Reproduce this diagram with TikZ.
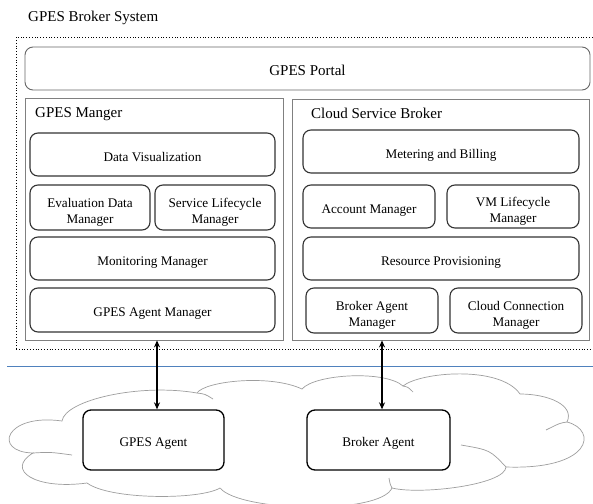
\documentclass[tikz,border=0pt]{standalone}
\usepackage{fontspec}
\setmainfont{Liberation Serif}
\usetikzlibrary{arrows.meta}
\definecolor{sepblue}{RGB}{79,129,189}
\begin{document}
\begin{tikzpicture}[x=1pt,y=-1pt,
  box/.style={draw=black!80,line width=1.1pt,rounded corners=8pt,align=center,
    font=\fontsize{13.2}{16.5}\selectfont,inner sep=0pt,fill=white,
    text height=13pt,text depth=0pt},
  twoline/.style={box,text height=32pt},
  agent/.style={box,line width=1.3pt,draw=black,text height=13.5pt},
  container/.style={draw=black!50,line width=0.8pt,inner sep=0pt},
  portal/.style={draw=black!60,line width=0.9pt,rounded corners=8pt,inner sep=0pt,
    font=\fontsize{15}{17}\selectfont,text height=13pt,text depth=0pt},
  title/.style={anchor=west,inner sep=0pt,font=\fontsize{15}{17}\selectfont},
  cloudline/.style={draw=black!38,line width=0.7pt},
  biarrow/.style={{Stealth[length=7pt,width=6pt]}-{Stealth[length=7pt,width=6pt]},line width=1.2pt},
]
\useasboundingbox (0,0) rectangle (593,503);
% cloud
\coordinate (c1) at (33,453);
\coordinate (c2) at (62,421);
\coordinate (c3) at (197,393);
\coordinate (c4) at (302,389);
\coordinate (c5) at (403,386);
\coordinate (c6) at (520,394);
\coordinate (c7) at (567,422);
\coordinate (c8) at (506,467);
\coordinate (c9) at (392,488);
\coordinate (c10) at (220,488);
\coordinate (c11) at (87,483);
\draw[cloudline,fill=white]
  (c1) .. controls (-8,452) and (5,413) .. (c2)
  .. controls (65,400) and (140,383) .. (c3)
  .. controls (205,381) and (270,374) .. (c4)
  .. controls (315,374) and (385,370) .. (c5)
  .. controls (420,372) and (500,365) .. (c6)
  .. controls (548,394) and (575,405) .. (c7)
  .. controls (598,430) and (592,470) .. (c8)
  .. controls (505,485) and (420,495) .. (c9)
  .. controls (380,515) and (240,512) .. (c10)
  .. controls (200,500) and (110,500) .. (c11)
  .. controls (35,490) and (5,470) .. (c1) -- cycle;
% inner strokes of the cloud
\draw[cloudline] (c1) .. controls (50,452) .. (72,455);
\draw[cloudline] (c3) .. controls (205,394) .. (213,399);
\draw[cloudline] (c5) .. controls (408,387) .. (413,392);
\draw[cloudline] (c7) .. controls (560,423) .. (546,430);
\draw[cloudline] (c8) .. controls (490,450) .. (461,445);
\draw[cloudline] (c9) .. controls (390,484) .. (389,478);
% title and outer dotted frame
\node[title] (sys) at (28,18) {GPES Broker System};
\node[draw=black,dotted,line width=0.8pt,minimum width=577.5pt,minimum height=312pt,inner sep=0pt] (outer) at (304.75,193) {};
% portal
\node[portal,minimum width=565pt,minimum height=43pt] (portal) at (307.5,68.5) {GPES Portal};
% containers
\node[container,minimum width=258pt,minimum height=242pt] (gm) at (154,219) {};
\node[title] (gmt) at (35,114) {GPES Manger};
\node[container,minimum width=297pt,minimum height=241pt] (csb) at (440.5,219.5) {};
\node[title] (csbt) at (311,113) {Cloud Service Broker};
% left inner boxes
\node[box,minimum width=245pt,minimum height=43pt] (dv) at (152.5,154.5) {Data Visualization};
\node[twoline,minimum width=120pt,minimum height=45pt] (edm) at (90,207.5) {Evaluation Data\\Manager};
\node[twoline,minimum width=120pt,minimum height=45pt] (slm) at (215,207.5) {Service Lifecycle\\Manager};
\node[box,minimum width=245pt,minimum height=43pt] (mm) at (152.5,258.5) {Monitoring Manager};
\node[box,minimum width=245pt,minimum height=44pt] (gam) at (152.5,310) {GPES Agent Manager};
% right inner boxes
\node[box,minimum width=276pt,minimum height=43pt] (mb) at (441,151.5) {Metering and Billing};
\node[box,minimum width=132pt,minimum height=43pt] (am) at (369,206.5) {Account Manager};
\node[twoline,minimum width=132pt,minimum height=43pt] (vm) at (513,206.5) {VM Lifecycle\\Manager};
\node[box,minimum width=276pt,minimum height=43pt] (rp) at (441,258.5) {Resource Provisioning};
\node[twoline,minimum width=132pt,minimum height=45pt] (bam) at (372,310.5) {Broker Agent\\Manager};
\node[twoline,minimum width=132pt,minimum height=45pt] (ccm) at (516,310.5) {Cloud Connection\\Manager};
% separator
\coordinate (sepL) at (7,366.5);
\coordinate (sepR) at (593,366.5);
\draw[sepblue,line width=1.3pt] (sepL) -- (sepR);
% agents
\node[agent,minimum width=141pt,minimum height=60pt] (ga) at (153.5,440) {GPES Agent};
\node[agent,minimum width=143pt,minimum height=60pt] (ba) at (378.5,440) {Broker Agent};
% connectors
\coordinate (x1) at (157,0);
\coordinate (x2) at (382,0);
\draw[biarrow] (gm.south -| x1) -- (ga.north -| x1);
\draw[biarrow] (csb.south -| x2) -- (ba.north -| x2);
\end{tikzpicture}
\end{document}
